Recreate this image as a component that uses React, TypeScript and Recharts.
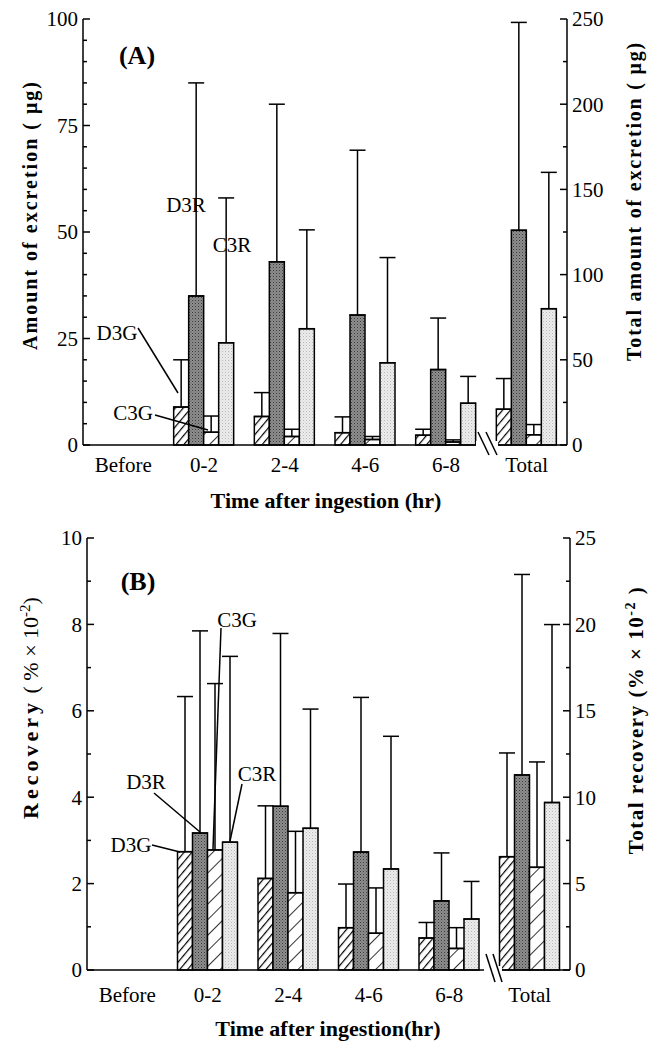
import { ComposedChart, Bar, Line, XAxis, YAxis, ErrorBar } from "recharts";

const categories = ["Before", "0-2", "2-4", "4-6", "6-8", "Total"];

// (A) amount of excretion, ug. Intervals on left axis, Total on right axis
const aD3G = [null, 8.9, 6.7, 2.9, 2.3, 21];
const aD3GSd = [null, 11.1, 5.6, 3.7, 1.4, 18];
const aD3R = [null, 35, 43, 30.5, 17.7, 126];
const aD3RSd = [null, 50, 37, 38.7, 12.1, 122];
const aC3G = [null, 3.0, 2.0, 1.3, 0.7, 6];
const aC3GSd = [null, 3.8, 1.7, 0.7, 0.5, 6];
const aC3R = [null, 24, 27.3, 19.3, 9.8, 80];
const aC3RSd = [null, 34, 23.2, 24.7, 6.3, 80];

// (B) recovery, % x 10^-2
const bD3G = [null, 2.74, 2.12, 0.98, 0.74, 6.56];
const bD3GSd = [null, 3.59, 1.68, 1.01, 0.36, 6.0];
const bD3R = [null, 3.17, 3.79, 2.73, 1.6, 11.29];
const bD3RSd = [null, 4.68, 4.0, 3.58, 1.11, 11.6];
const bC3G = [null, 2.78, 1.79, 0.85, 0.5, 5.94];
const bC3GSd = [null, 3.85, 1.42, 1.05, 0.48, 6.1];
const bC3R = [null, 2.96, 3.28, 2.34, 1.18, 9.69];
const bC3RSd = [null, 4.3, 2.76, 3.07, 0.87, 10.3];

const aLeftTicks = [0, 5, 10, 15, 20, 25, 30, 35, 40, 45, 50, 55, 60, 65, 70, 75, 80, 85, 90, 95, 100];
const aRightTicks = [0, 25, 50, 75, 100, 125, 150, 175, 200, 225, 250];
const bLeftTicks = [0, 1, 2, 3, 4, 5, 6, 7, 8, 9, 10];
const bRightTicks = [0, 2.5, 5, 7.5, 10, 12.5, 15, 17.5, 20, 22.5, 25];

const keys = ["d3g", "d3r", "c3g", "c3r"];
const fills = ["url(#hatchDense)", "url(#stipDark)", "url(#hatchSparse)", "url(#stipLight)"];

// Total belongs to the right axis; both axes share the plot height, so the
// Total bars are divided by the axis ratio to sit in the same slots on the left scale.
// An invisible line keeps the raw Total on the right axis so that axis gets drawn.
function makeRows(means: any[][], sds: any[][], ratio: number) {
  return categories.map((cat, i) => {
    const row: any = { cat };
    keys.forEach((k, j) => {
      const f = cat === "Total" ? 1 / ratio : 1;
      const m = means[j][i];
      const s = sds[j][i];
      row[k] = m == null ? null : m * f;
      row[k + "Err"] = s == null ? null : [0, s * f];
    });
    row.totalRaw = cat === "Total" ? means[1][i] : null;
    return row;
  });
}

const rowsA = makeRows([aD3G, aD3R, aC3G, aC3R], [aD3GSd, aD3RSd, aC3GSd, aC3RSd], 2.5);
const rowsB = makeRows([bD3G, bD3R, bC3G, bC3R], [bD3GSd, bD3RSd, bC3GSd, bC3RSd], 2.5);

const FONT = "Liberation Serif, Times New Roman, serif";
const GAP = 5;

function YTick(props: any) {
  const { x, y, payload, side, major } = props;
  const v = payload.value;
  const isMajor = Math.abs(v / major - Math.round(v / major)) < 1e-6;
  const ax = side === "left" ? x + GAP : x - GAP;
  const dir = side === "left" ? 1 : -1;
  const len = isMajor ? 7 : 4;
  return (
    <g>
      <line x1={ax} y1={y} x2={ax + dir * len} y2={y} stroke="#000" strokeWidth={1.5} />
      {isMajor && (
        <text
          x={x}
          y={y}
          dy="0.35em"
          textAnchor={side === "left" ? "end" : "start"}
          fontSize={21}
          fontFamily={FONT}
          fill="#000"
        >
          {v}
        </text>
      )}
    </g>
  );
}

function Panel({ rows, height, margin, leftMax, rightMax, leftTicks, rightTicks, leftMajor, rightMajor, tickMargin }: any) {
  return (
    <ComposedChart
      width={657}
      height={height}
      data={rows}
      margin={margin}
      barSize={15}
      barGap={0}
    >
      <XAxis
        dataKey="cat"
        tickLine={false}
        interval={0}
        height={30}
        tickMargin={tickMargin}
        axisLine={{ stroke: "#000", strokeWidth: 1.5 }}
        tick={{ fontSize: 21, fill: "#000", fontFamily: FONT }}
      />
      <YAxis
        yAxisId="left"
        width={60}
        domain={[0, leftMax]}
        ticks={leftTicks}
        interval={0}
        tickSize={0}
        tickMargin={GAP}
        tickLine={false}
        axisLine={{ stroke: "#000", strokeWidth: 1.5 }}
        tick={(p: any) => <YTick {...p} side="left" major={leftMajor} />}
      />
      <YAxis
        yAxisId="right"
        orientation="right"
        width={60}
        domain={[0, rightMax]}
        ticks={rightTicks}
        allowDataOverflow
        interval={0}
        tickSize={0}
        tickMargin={GAP}
        tickLine={false}
        axisLine={{ stroke: "#000", strokeWidth: 1.5 }}
        tick={(p: any) => <YTick {...p} side="right" major={rightMajor} />}
      />
      {keys.map((k, j) => (
        <Bar
          key={k}
          dataKey={k}
          yAxisId="left"
          fill={fills[j]}
          stroke="#000"
          strokeWidth={1.5}
          isAnimationActive={false}
        >
          <ErrorBar
            dataKey={k + "Err"}
            width={8}
            stroke="#000"
            strokeWidth={1.5}
            direction="y"
            isAnimationActive={false}
          />
        </Bar>
      ))}
      <Line
        dataKey="totalRaw"
        yAxisId="right"
        stroke="none"
        dot={false}
        activeDot={false}
        legendType="none"
        isAnimationActive={false}
      />
    </ComposedChart>
  );
}

const txt = { fontFamily: FONT, fill: "#000" } as const;

export default function App() {
  return (
    <div style={{ position: "absolute", left: 0, top: 0, width: 657, height: 1041, background: "#fff" }}>
      <svg width={0} height={0} style={{ position: "absolute" }}>
        <defs>
          <pattern id="hatchDense" patternUnits="userSpaceOnUse" width="6" height="6" patternTransform="rotate(40)">
            <rect width="6" height="6" fill="#fff" />
            <line x1="0" y1="0" x2="0" y2="6" stroke="#000" strokeWidth="2.4" />
          </pattern>
          <pattern id="hatchSparse" patternUnits="userSpaceOnUse" width="11" height="11" patternTransform="rotate(45)">
            <rect width="11" height="11" fill="#fff" />
            <line x1="0" y1="0" x2="0" y2="11" stroke="#000" strokeWidth="1.6" />
          </pattern>
          <pattern id="stipDark" patternUnits="userSpaceOnUse" width="3" height="3">
            <rect width="3" height="3" fill="#8e8e8e" />
            <rect width="1" height="1" fill="#3a3a3a" />
            <rect x="1.5" y="1.5" width="1" height="1" fill="#5a5a5a" />
          </pattern>
          <pattern id="stipLight" patternUnits="userSpaceOnUse" width="3" height="3">
            <rect width="3" height="3" fill="#ececec" />
            <rect width="1" height="1" fill="#b8b8b8" />
            <rect x="1.5" y="1.5" width="1" height="1" fill="#d0d0d0" />
          </pattern>
        </defs>
      </svg>

      <div style={{ position: "absolute", left: 0, top: 0 }}>
        <Panel
          rows={rowsA}
          height={520}
          margin={{ top: 19, right: 30, bottom: 45, left: 23 }}
          leftMax={100}
          rightMax={250}
          leftTicks={aLeftTicks}
          rightTicks={aRightTicks}
          leftMajor={25}
          rightMajor={50}
          tickMargin={6}
        />
      </div>
      <div style={{ position: "absolute", left: 0, top: 520 }}>
        <Panel
          rows={rowsB}
          height={521}
          margin={{ top: 18, right: 27, bottom: 41, left: 27 }}
          leftMax={10}
          rightMax={25}
          leftTicks={bLeftTicks}
          rightTicks={bRightTicks}
          leftMajor={2}
          rightMajor={5}
          tickMargin={11}
        />
      </div>

      <svg width={657} height={1041} style={{ position: "absolute", left: 0, top: 0, pointerEvents: "none" }}>
        {/* panel A labels */}
        <text x={137} y={55} dy="0.35em" textAnchor="middle" fontSize={26} fontWeight="bold" {...txt}>(A)</text>
        <text x={186} y={205} dy="0.35em" textAnchor="middle" fontSize={21} {...txt}>D3R</text>
        <text x={232} y={245} dy="0.35em" textAnchor="middle" fontSize={21} {...txt}>C3R</text>
        <text x={117} y={333} dy="0.35em" textAnchor="middle" fontSize={21} {...txt}>D3G</text>
        <line x1={138} y1={328} x2={178} y2={393} stroke="#000" strokeWidth={1.5} />
        <text x={133} y={413} dy="0.35em" textAnchor="middle" fontSize={21} {...txt}>C3G</text>
        <line x1={155} y1={415} x2={208} y2={430} stroke="#000" strokeWidth={1.5} />
        <text transform="translate(30,215) rotate(-90)" textAnchor="middle" dy="0.35em" fontSize={20} fontWeight="bold" letterSpacing={2} {...txt}>
          Amount of excretion ( μg)
        </text>
        <text transform="translate(634,201) rotate(-90)" textAnchor="middle" dy="0.35em" fontSize={20} fontWeight="bold" letterSpacing={1.8} {...txt}>
          Total amount of excretion ( μg)
        </text>
        <text x={326} y={500} dy="0.35em" textAnchor="middle" fontSize={22} fontWeight="bold" {...txt}>
          Time after ingestion (hr)
        </text>
        <rect x={476} y={441} width={22} height={8} fill="#fff" />
        <line x1={478} y1={432} x2={489} y2={455} stroke="#000" strokeWidth={1.5} />
        <line x1={486} y1={432} x2={497} y2={455} stroke="#000" strokeWidth={1.5} />

        {/* panel B labels */}
        <text x={138} y={581} dy="0.35em" textAnchor="middle" fontSize={26} fontWeight="bold" {...txt}>(B)</text>
        <text x={237} y={620} dy="0.35em" textAnchor="middle" fontSize={21} {...txt}>C3G</text>
        <line x1={221} y1={628} x2={213} y2={849} stroke="#000" strokeWidth={1.5} />
        <text x={146} y={782} dy="0.35em" textAnchor="middle" fontSize={21} {...txt}>D3R</text>
        <line x1={154} y1={793} x2={200} y2={832} stroke="#000" strokeWidth={1.5} />
        <text x={257} y={774} dy="0.35em" textAnchor="middle" fontSize={21} {...txt}>C3R</text>
        <line x1={242} y1={784} x2={230} y2={841} stroke="#000" strokeWidth={1.5} />
        <text x={131} y={845} dy="0.35em" textAnchor="middle" fontSize={21} {...txt}>D3G</text>
        <line x1={152} y1={845} x2={180} y2={852} stroke="#000" strokeWidth={1.5} />
        <text transform="translate(30,708) rotate(-90)" textAnchor="middle" dy="0.35em" fontSize={22} {...txt}>
          <tspan fontWeight="bold" letterSpacing={4}>Recovery</tspan>
          <tspan> ( % × 10</tspan>
          <tspan dy={-8} fontSize={15}>-2</tspan>
          <tspan dy={8}>)</tspan>
        </text>
        <text transform="translate(636,720) rotate(-90)" textAnchor="middle" dy="0.35em" fontSize={21} fontWeight="bold" letterSpacing={1.5} {...txt}>
          <tspan>Total recovery (% × 10</tspan>
          <tspan dy={-8} fontSize={14}>-2</tspan>
          <tspan dy={8}> )</tspan>
        </text>
        <text x={328} y={1028} dy="0.35em" textAnchor="middle" fontSize={22} fontWeight="bold" {...txt}>
          Time after ingestion(hr)
        </text>
        <rect x={484} y={966} width={18} height={8} fill="#fff" />
        <line x1={486} y1={954} x2={495} y2={982} stroke="#000" strokeWidth={1.5} />
        <line x1={493} y1={954} x2={502} y2={982} stroke="#000" strokeWidth={1.5} />
      </svg>
    </div>
  );
}
